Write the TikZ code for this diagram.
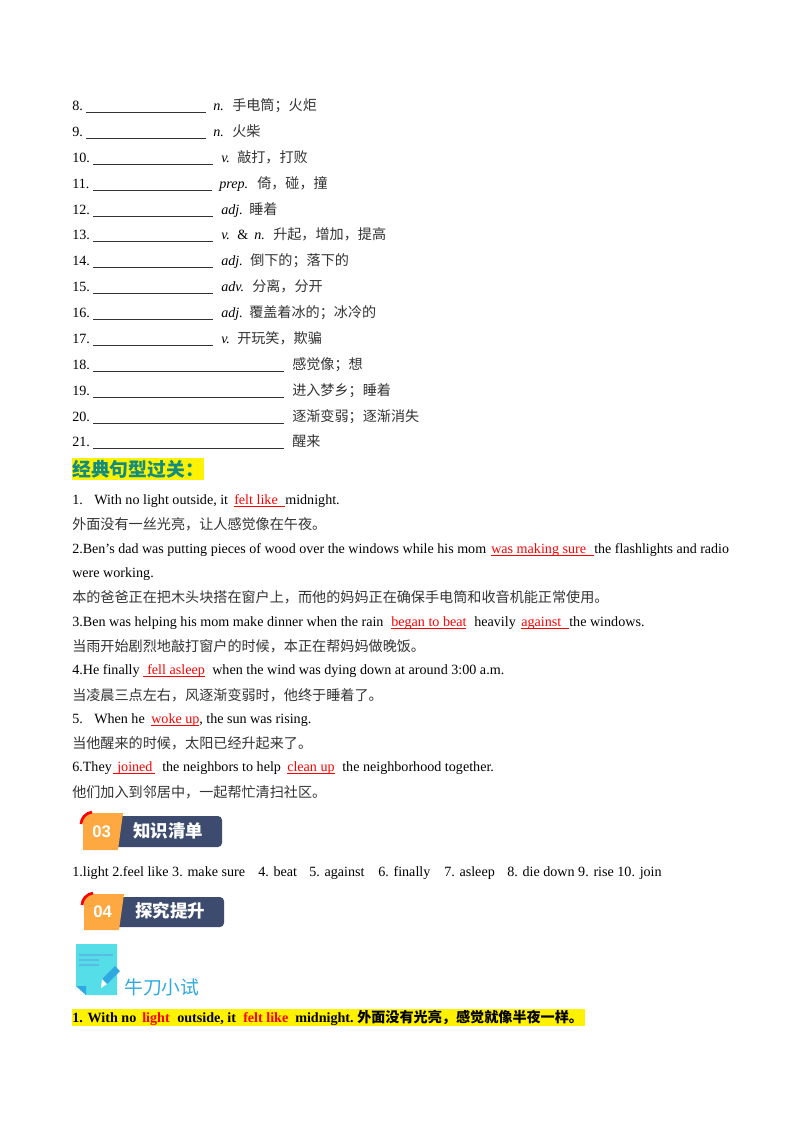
\documentclass[tikz,border=0pt]{standalone}
\usepackage{fontspec}
\setmainfont{Liberation Serif}
\setsansfont{Liberation Sans}
\newfontfamily\cjk{Noto Sans CJK SC}
\newcommand{\tensize}{\fontsize{10.5}{12}\selectfont}
\tikzset{
  txt/.style={anchor=base west, inner sep=0pt, font=\tensize},
  zh/.style={txt, font=\cjk\tensize, text=black!80},
  wordclass/.style={txt, font=\itshape\tensize},
  redtxt/.style={txt, text=red},
  blank/.style={black!80, line width=0.5pt},
  redline/.style={red, line width=0.5pt},
  bartxt/.style={anchor=base west, inner sep=0pt, text=white, font=\cjk\bfseries\fontsize{13}{15}\selectfont},
  numtxt/.style={anchor=base west, inner sep=0pt, text=white, font=\sffamily\bfseries\fontsize{12.5}{14}\selectfont},
  boldtxt/.style={txt, font=\bfseries\tensize},
  boldred/.style={boldtxt, text=red}
}
\definecolor{barblue}{HTML}{3D4B6E}
\definecolor{barorange}{HTML}{FDA841}
\definecolor{notecyan}{HTML}{55DDE8}
\definecolor{noteblue}{HTML}{2FA9E0}
\definecolor{headteal}{HTML}{128C7E}
\begin{document}
\begin{tikzpicture}[x=0.744pt,y=-0.744pt]
\useasboundingbox (0,0) rectangle (800,1132);

% word list
\foreach \n/\y/\xa/\xb/\xc/\p/\xz/\w in {8/110/86/206/213/n./232/手电筒；火炬, 9/136/86/206/213/n./232/火柴,
  10/162/93/213/221/v./237/敲打，打败, 11/188/93/212/219/prep./257/倚，碰，撞, 12/214/93/213/221/adj./249/睡着,
  14/265/93/213/221/adj./250/倒下的；落下的, 15/291/93/213/221/adv./252/分离，分开,
  16/317/93/213/221/adj./249/覆盖着冰的；冰冷的, 17/343/93/213/221/v./237/开玩笑，欺骗}{
  \node[txt] (num\n) at (72,\y) {\n.};
  \draw[blank] (\xa,\y+2) -- (\xb,\y+2);
  \node[wordclass] (class\n) at (\xc,\y) {\p};
  \node[zh] (mean\n) at (\xz,\y) {\w};
}
\node[txt] (num13) at (72,239) {13.};
\draw[blank] (93,241) -- (213,241);
\node[wordclass] (class13) at (221,239) {v.};
\node[txt] (amp13) at (237,239) {\&};
\node[wordclass] (noun13) at (254,239) {n.};
\node[zh] (mean13) at (273,239) {升起，增加，提高};

\foreach \n/\y/\w in {18/369/感觉像；想, 19/395/进入梦乡；睡着, 20/421/逐渐变弱；逐渐消失, 21/446/醒来}{
  \node[txt] (num\n) at (72,\y) {\n.};
  \draw[blank] (93,\y+2) -- (284,\y+2);
  \node[zh] (mean\n) at (292,\y) {\w};
}

% heading
\fill[yellow] (72,458) rectangle (204,480);
\node[txt, text=headteal, font=\cjk\bfseries\fontsize{14}{16}\selectfont] (head) at (72,476) {经典句型过关：};

% sentences
\node[txt] (one) at (72,504) {1.};
\node[txt] (onea) at (94,504) {With no light outside, it};
\node[redtxt] (oneb) at (234,504) {felt like};
\draw[redline] (234,506) -- (285,506);
\node[txt] (onec) at (285,504) {midnight.};
\node[zh] (onez) at (72,529) {外面没有一丝光亮，让人感觉像在午夜。};

\node[txt, font=\fontsize{10.45}{12}\selectfont] (two) at (72,553) {2.Ben’s dad was putting pieces of wood over the windows while his mom};
\node[redtxt] (twob) at (491,553) {was making sure};
\draw[redline] (491,555) -- (594,555);
\node[txt, font=\fontsize{10.4}{12}\selectfont] (twoc) at (594,553) {the flashlights and radio};
\node[txt] (twod) at (72,577) {were working.};
\node[zh] (twoz) at (72,602) {本的爸爸正在把木头块搭在窗户上，而他的妈妈正在确保手电筒和收音机能正常使用。};

\node[txt] (three) at (72,626) {3.Ben was helping his mom make dinner when the rain};
\node[redtxt] (threeb) at (391,626) {began to beat};
\draw[redline] (391,628) -- (466,628);
\node[txt] (threec) at (474,626) {heavily};
\node[redtxt] (threed) at (521,626) {against};
\draw[redline] (521,628) -- (569,628);
\node[txt] (threee) at (569,626) {the windows.};
\node[zh] (threez) at (72,651) {当雨开始剧烈地敲打窗户的时候，本正在帮妈妈做晚饭。};

\node[txt] (four) at (72,674) {4.He finally};
\node[redtxt] (fourb) at (147,674) {fell asleep};
\draw[redline] (143,676) -- (205,676);
\node[txt] (fourc) at (212,674) {when the wind was dying down at around 3:00 a.m.};
\node[zh] (fourz) at (72,700) {当凌晨三点左右，风逐渐变弱时，他终于睡着了。};

\node[txt] (five) at (72,723) {5.};
\node[txt] (fivea) at (94,723) {When he};
\node[redtxt] (fiveb) at (151,723) {woke up};
\draw[redline] (151,725) -- (199,725);
\node[txt] (fivec) at (199,723) {, the sun was rising.};
\node[zh] (fivez) at (72,748) {当他醒来的时候，太阳已经升起来了。};

\node[txt] (six) at (72,771) {6.They};
\node[redtxt] (sixb) at (117,771) {joined};
\draw[redline] (113,773) -- (155,773);
\node[txt] (sixc) at (162,771) {the neighbors to help};
\node[redtxt] (sixd) at (287,771) {clean up};
\draw[redline] (287,773) -- (335,773);
\node[txt] (sixe) at (342,771) {the neighborhood together.};
\node[zh] (sixz) at (72,797) {他们加入到邻居中，一起帮忙清扫社区。};

% banner 03
\fill[barblue, rounded corners=3pt] (118,816) -- (222,816) -- (222,847) -- (112,847) -- cycle;
\fill[barorange] (83,819) -- (90,813) -- (123,813) -- (118,850) -- (83,850) -- cycle;
\draw[red, line width=2pt] (81,824) .. controls (81,818) and (86,813) .. (92,812);
\node[numtxt] (numthree) at (92,837) {03};
\node[bartxt] (barthree) at (133,837) {知识清单};

\node[txt] (lista) at (72,876) {1.light 2.feel like 3. make sure};
\node[txt] (listb) at (258,876) {4. beat};
\node[txt] (listc) at (309,876) {5. against};
\node[txt] (listd) at (378,876) {6. finally};
\node[txt] (liste) at (444,876) {7. asleep};
\node[txt] (listf) at (507,876) {8. die down 9. rise 10. join};

% banner 04
\fill[barblue, rounded corners=3pt] (119,897) -- (224,897) -- (224,927) -- (113,927) -- cycle;
\fill[barorange] (84,900) -- (91,894) -- (124,894) -- (119,930) -- (84,930) -- cycle;
\draw[red, line width=2pt] (82,905) .. controls (82,899) and (87,894) .. (93,893);
\node[numtxt] (numfour) at (93,917) {04};
\node[bartxt] (barfour) at (135,917) {探究提升};

% note icon
\fill[notecyan] (76,944) -- (117,944) -- (117,995) -- (86,995) -- (76,986) -- cycle;
\fill[noteblue] (76,986) -- (86,986) -- (86,995) -- cycle;
\foreach \y/\xe in {955/113, 960/99, 965/99}{
  \draw[noteblue!80, line width=1.6pt] (79,\y) -- (\xe,\y);
}
\fill[noteblue] (102,979) -- (115,966) -- (120,971) -- (107,984) -- cycle;
\fill[white] (101,988) -- (102,979) -- (107,984) -- cycle;
\node[txt, text=noteblue, font=\cjk\fontsize{14}{16}\selectfont] (test) at (124,994) {牛刀小试};

% bottom line
\fill[yellow] (72,1009) rectangle (585,1026);
\node[boldtxt] (qa) at (72,1022) {1. With no};
\node[boldred] (qb) at (142,1022) {light};
\node[boldtxt] (qc) at (177,1022) {outside, it};
\node[boldred] (qd) at (243,1022) {felt like};
\node[boldtxt] (qe) at (295,1022) {midnight.};
\node[txt, font=\cjk\bfseries\tensize] (qz) at (357,1022) {外面没有光亮，感觉就像半夜一样。};
\end{tikzpicture}
\end{document}
